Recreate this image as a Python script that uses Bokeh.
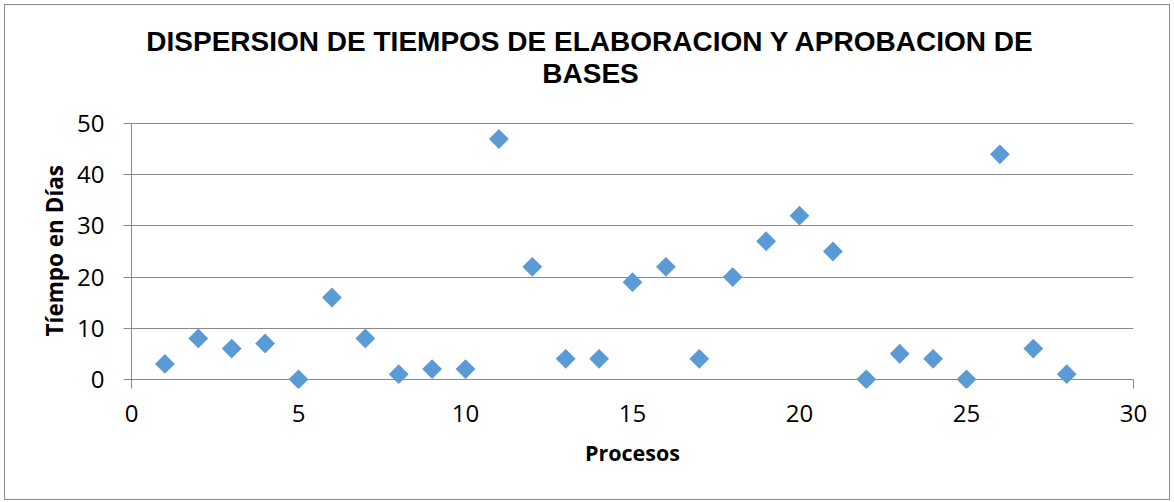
import math
from bokeh.plotting import figure
from bokeh.models import Label, FixedTicker, Range1d, Title
from bokeh.embed import file_html
from bokeh.resources import INLINE

procesos = [1, 2, 3, 4, 5, 6, 7, 8, 9, 10, 11, 12, 13, 14,
            15, 16, 17, 18, 19, 20, 21, 22, 23, 24, 25, 26, 27, 28]
tiempos = [3, 8, 6, 7, 0, 16, 8, 1, 2, 2, 47, 22, 4, 4,
           19, 22, 4, 20, 27, 32, 25, 0, 5, 4, 0, 44, 6, 1]
x_ticks = [0, 5, 10, 15, 20, 25, 30]
y_ticks = [0, 10, 20, 30, 40, 50]
title_line1 = "DISPERSION DE TIEMPOS DE ELABORACION Y APROBACION DE"
title_line2 = "BASES"
x_label = "Procesos"
y_label = "Tíempo en Días"

GRAY = "#898989"
FONT = "Open Sans"

# frame extends above the 0-50 axis so the title can sit inside the canvas frame
p = figure(width=1166, height=496, output_backend="svg", toolbar_location=None,
           x_range=Range1d(0, 30), y_range=Range1d(-1.8, 69.2),
           min_border_left=126, min_border_right=38,
           min_border_top=20, min_border_bottom=113,
           background_fill_color="white", border_fill_color="white",
           styles={"margin-left": "4px", "margin-top": "4px",
                   "border": "1px solid #8c8c8c"})
p.outline_line_color = None

p.scatter(procesos, tiempos, marker="square", size=14, angle=math.pi / 4,
          fill_color="#5B9BD5", line_color=None)

# grid
p.xgrid.grid_line_color = None
p.ygrid.grid_line_color = GRAY
p.ygrid.ticker = FixedTicker(ticks=y_ticks)

# x axis
xa = p.xaxis[0]
xa.ticker = FixedTicker(ticks=x_ticks, minor_ticks=[30])
xa.axis_line_color = None
xa.major_tick_out = 0
xa.major_tick_in = 0
xa.minor_tick_line_color = GRAY
xa.minor_tick_in = 9
xa.minor_tick_out = 0
xa.major_label_text_font = FONT
xa.major_label_text_font_size = "24px"
xa.major_label_text_color = "black"
xa.major_label_standoff = 16
xa.axis_label = x_label
xa.axis_label_text_font = FONT
xa.axis_label_text_font_size = "21.5px"
xa.axis_label_text_font_style = "bold"
xa.axis_label_text_color = "black"
xa.axis_label_standoff = 13

# y axis
ya = p.yaxis[0]
ya.ticker = FixedTicker(ticks=y_ticks)
ya.bounds = (-1.8, 50)
ya.axis_line_color = GRAY
ya.major_tick_line_color = GRAY
ya.major_tick_out = 8
ya.major_tick_in = 0
ya.minor_tick_line_color = None
ya.major_label_text_font = FONT
ya.major_label_text_font_size = "24px"
ya.major_label_text_color = "black"
ya.major_label_standoff = 19

# y-axis title, positioned along the 0-50 part of the frame
p.add_layout(Title(text=y_label, align="left", offset=52, standoff=10,
                   text_font=FONT, text_font_size="22.5px",
                   text_font_style="bold", text_color="black"), "left")

# two-line title, centred on the whole chart (screen units from frame bottom-left)
for txt, yy in ((title_line1, 347), (title_line2, 315)):
    p.add_layout(Label(x=459, y=yy, x_units="screen", y_units="screen",
                       text=txt, text_align="center", text_baseline="alphabetic",
                       text_font="Liberation Sans", text_font_size="28px",
                       text_font_style="bold", text_color="black"))

open("out.html", "w").write(file_html(p, INLINE))
